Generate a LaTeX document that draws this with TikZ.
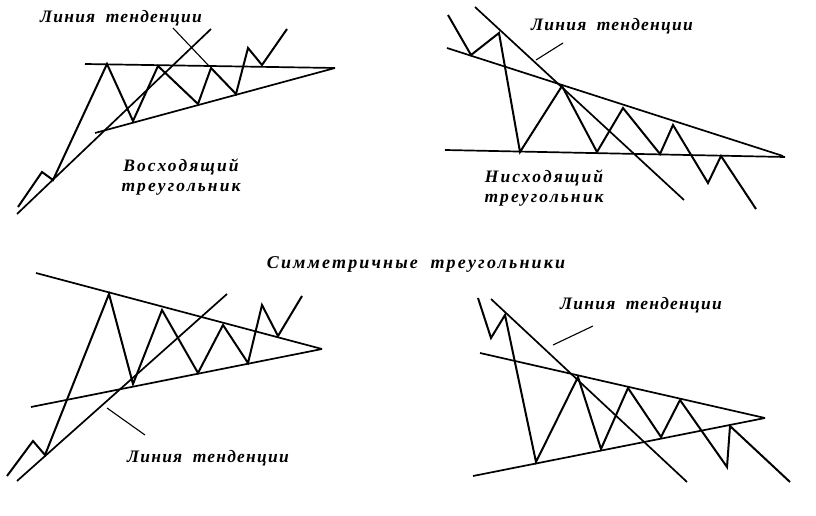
\documentclass[tikz,border=0pt]{standalone}
\usepackage{fontspec}
\setmainfont{Liberation Serif}
\newfontfamily\lblfont[LetterSpace=7]{Liberation Serif}
\newfontfamily\widefont[LetterSpace=12]{Liberation Serif}
\newfontfamily\titlefont[LetterSpace=12]{Liberation Serif}
\begin{document}
\begin{tikzpicture}[x=1pt,y=-1pt,
  ln/.style={line width=1.7pt,line join=miter,line cap=butt},
  zz/.style={line width=2pt,line join=miter},
  ptr/.style={line width=1.1pt},
  lbl/.style={font=\lblfont\bfseries\itshape\fontsize{17.5}{19}\selectfont,inner sep=0pt,anchor=center},
  lbltwo/.style={font=\widefont\bfseries\itshape\fontsize{17.5}{19.5}\selectfont,inner sep=0pt,anchor=center,align=center},
  ttl/.style={font=\titlefont\bfseries\itshape\fontsize{18}{19}\selectfont,inner sep=0pt,anchor=center}]
\useasboundingbox (0,0) rectangle (816,516);
\fill[white] (0,0) rectangle (816,516);
% ---------- Panel 1: ascending triangle ----------
\draw[ln] (85,64) -- (335,68);
\draw[ln] (95,133) -- (335,68);
\draw[ln] (17,214) -- (211,29);
\draw[zz] (18,207) -- (42,172) -- (53,180) -- (107,64) -- (133,121) -- (158,66)
  -- (198,104) -- (211,68) -- (236,94) -- (248,48) -- (262,65) -- (287,29);
\draw[ptr] (173,28) -- (209,66);
\node[lbl] (t1) at (121,18) {Линия\hspace{0.6em}тенденции};
\node[lbltwo] (a1) at (181,177) {Восходящий\\треугольник};
% ---------- Panel 2: descending triangle ----------
\draw[ln] (447,48) -- (783,156);
\draw[ln] (445,150) -- (785,157);
\draw[ln] (475,7) -- (684,200);
\draw[zz] (448,15) -- (471,55) -- (499,33) -- (520,152) -- (562,86) -- (597,152)
  -- (623,108) -- (660,154) -- (673,125) -- (708,183) -- (721,156) -- (756,209);
\draw[ptr] (563,43) -- (536,60);
\node[lbl] (t2) at (612,26) {Линия\hspace{0.6em}тенденции};
\node[lbltwo] (d1) at (544,188) {Нисходящий\\треугольник};
% ---------- Title ----------
\node[ttl] (title) at (416,264) {Симметричные\hspace{0.7em}треугольники};
% ---------- Panel 3: symmetric, breakout up ----------
\draw[ln] (36,273) -- (322,349);
\draw[ln] (31,407) -- (322,349);
\draw[ln] (17,481) -- (227,294);
\draw[zz] (7,476) -- (33,441) -- (45,455) -- (109,294) -- (133,384) -- (162,310)
  -- (198,373) -- (223,325) -- (248,363) -- (262,305) -- (278,336) -- (302,296);
\draw[ptr] (107,408) -- (145,435);
\node[lbl] (t3) at (208,458) {Линия\hspace{0.6em}тенденции};
% ---------- Panel 4: symmetric, breakout down ----------
\draw[ln] (480,353) -- (765,418);
\draw[ln] (473,476) -- (765,418);
\draw[ln] (491,299) -- (687,482);
\draw[zz] (478,298) -- (491,338) -- (505,315) -- (536,462) -- (578,377) -- (601,449)
  -- (628,388) -- (661,437) -- (680,400) -- (727,467) -- (730,426) -- (790,482);
\draw[ptr] (593,326) -- (553,345);
\node[lbl] (t4) at (641,305) {Линия\hspace{0.6em}тенденции};
\end{tikzpicture}
\end{document}
